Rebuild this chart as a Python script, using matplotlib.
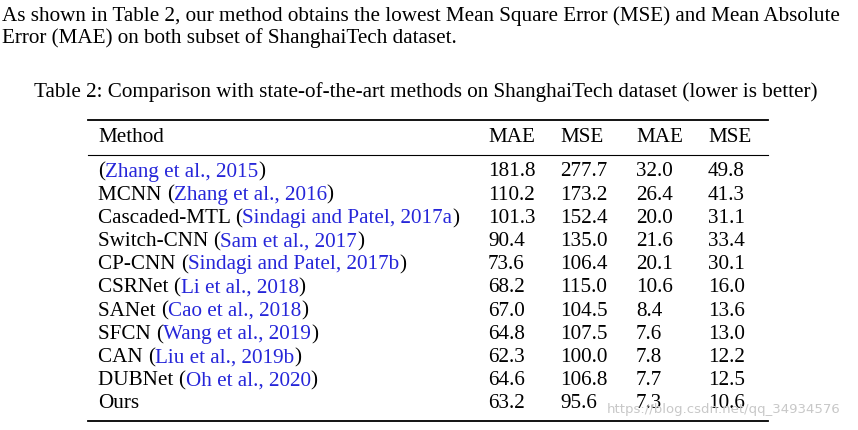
import matplotlib
matplotlib.use("Agg")
import matplotlib.pyplot as plt

plt.rcParams["font.family"] = "Liberation Serif"

intro = ["As shown in Table 2, our method obtains the lowest Mean Square Error (MSE) and Mean Absolute",
         "Error (MAE) on both subset of ShanghaiTech dataset."]
caption = "Table 2: Comparison with state-of-the-art methods on ShanghaiTech dataset (lower is better)"
headers = ["Method", "MAE", "MSE", "MAE", "MSE"]

# method name pieces: (prefix, citation, year)
names = ["", "MCNN ", "Cascaded-MTL ", "Switch-CNN ", "CP-CNN ", "CSRNet ", "SANet ",
         "SFCN ", "CAN ", "DUBNet ", "Ours"]
cites = ["Zhang et al., ", "Zhang et al., ", "Sindagi and Patel, ", "Sam et al., ",
         "Sindagi and Patel, ", "Li et al., ", "Cao et al., ", "Wang et al., ",
         "Liu et al., ", "Oh et al., ", ""]
years = ["2015", "2016", "2017a", "2017", "2017b", "2018", "2018", "2019", "2019b", "2020", ""]
mae_a = ["181.8", "110.2", "101.3", "90.4", "73.6", "68.2", "67.0", "64.8", "62.3", "64.6", "63.2"]
mse_a = ["277.7", "173.2", "152.4", "135.0", "106.4", "115.0", "104.5", "107.5", "100.0", "106.8", "95.6"]
mae_b = ["32.0", "26.4", "20.0", "21.6", "20.1", "10.6", "8.4", "7.6", "7.8", "7.7", "7.3"]
mse_b = ["49.8", "41.3", "31.1", "33.4", "30.1", "16.0", "13.6", "13.0", "12.2", "12.5", "10.6"]

W, H = 858, 430
fig = plt.figure(figsize=(W / 100, H / 100), dpi=100)
ax = fig.add_axes([0, 0, 1, 1])
ax.set_xlim(0, W)
ax.set_ylim(H, 0)
ax.axis("off")

fs = 15.2
blue = "#2626d9"

for i, line in enumerate(intro):
    ax.text(2, 16 + 22 * i, line, fontsize=fs, va="center")
ax.text(426, 92, caption, fontsize=fs, va="center", ha="center")

for y, lw in [(120, 1.3), (155, 0.8), (421, 1.3)]:
    ax.plot([88, 768], [y, y], color="black", lw=lw)

col_x = [98, 488, 560, 636, 708]
for x, h in zip(col_x, headers):
    ax.text(x, 137, h, fontsize=fs, va="center")

fig.canvas.draw()
r = fig.canvas.get_renderer()
inv = ax.transData.inverted()


def put(x, y, s, color="black"):
    t = ax.text(x, y, s, fontsize=fs, va="center", color=color)
    bb = t.get_window_extent(r)
    return inv.transform((bb.x1, bb.y0))[0] if s else x


y0, dy = 172, 23.2
for i in range(len(names)):
    y = y0 + dy * i
    x = col_x[0]
    x = put(x, y, names[i])
    if cites[i]:
        x = put(x, y, "(")
        x = put(x, y, cites[i] + years[i], blue)
        put(x, y, ")")
    for cx, v in zip(col_x[1:], [mae_a[i], mse_a[i], mae_b[i], mse_b[i]]):
        ax.text(cx, y, v, fontsize=fs, va="center")

ax.text(607, 410, "https://blog.csdn.net/qq_34934576", fontsize=9.5, va="center",
        color="#c8c8c8", family="DejaVu Sans")

fig.savefig("out.png", dpi=100)
